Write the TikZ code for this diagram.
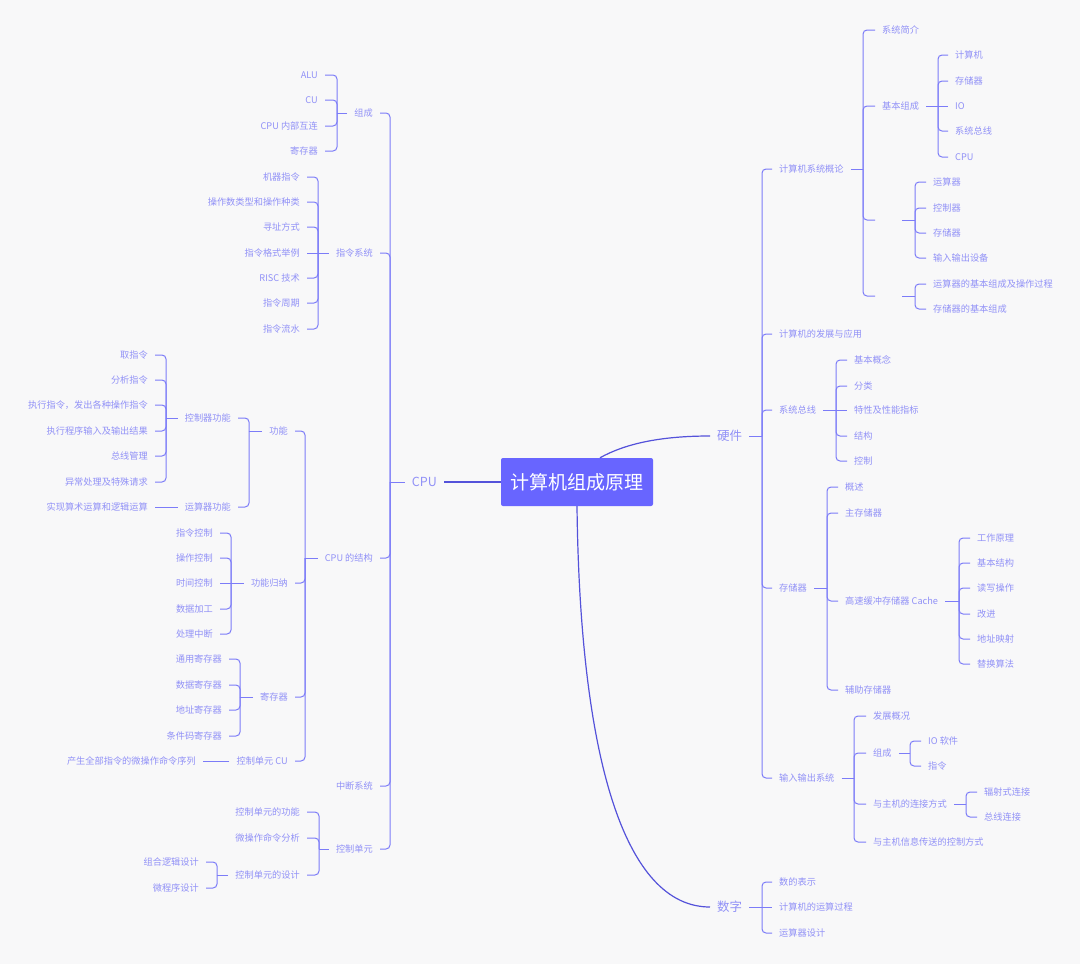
\documentclass[tikz,border=0pt]{standalone}
\usepackage{fontspec}
\setmainfont{Noto Sans CJK SC}
\usetikzlibrary{calc}
\definecolor{bgc}{RGB}{248,248,249}
\definecolor{lnc}{RGB}{124,124,248}
\definecolor{txc}{RGB}{145,145,247}
\definecolor{hubc}{RGB}{104,101,255}
\definecolor{trc}{RGB}{84,82,218}
\tikzset{
  lnode/.style={anchor=east, inner xsep=7pt, inner ysep=1pt, text=txc, font=\fontsize{9.2}{11}\selectfont},
  rnode/.style={lnode, anchor=west},
  mnode/.style={inner xsep=7pt, inner ysep=1pt, text=txc, font=\fontsize{12.5}{14}\selectfont},
  bline/.style={draw=lnc, line width=1pt, rounded corners=4pt},
  tline/.style={draw=trc, line width=1.2pt},
}
\begin{document}
\begin{tikzpicture}[x=1pt, y=-1pt]
            % background
            \path[use as bounding box, fill=bgc](0,0)rectangle(1080,964);

            % 中心
            \node[fill=hubc, rounded corners=2pt, minimum width=152pt, minimum height=48pt, text=white, font=\fontsize{19}{22}\selectfont](root)at(577,482){计算机组成原理};
            \node[mnode, anchor=east](cpu)at(444,482){CPU};
            \node[mnode, anchor=west](hw)at(710,436){硬件};
            \node[mnode, anchor=west](num)at(710,907){数字};
            \path[tline](root)--(cpu);
            \path[tline]([xshift=23pt]root.north)..controls +(25,-14) and +(-50,0)..(hw.west);
            \path[tline](root.south)..controls (580,760) and (625,907)..(num.west);

            % CPU
            \coordinate(cpuj)at(390,482);
            \path[bline](cpu)--(cpuj);
            \node[lnode](zc)at(380,113){组成};
            \node[lnode](zl)at(380,253){指令系统};
            \node[lnode](jg)at(380,558){CPU 的结构};
            \node[lnode](zd)at(380,786){中断系统};
            \node[lnode](kd)at(380,849){控制单元};
            \foreach \n in {zc,zl,jg,zd,kd} \path[bline](cpuj)|-(\n.east);

            % 组成
            \coordinate(zcj)at(337,113);
            \path[bline](zc)--(zcj);
            \node[lnode](alu)at(325,75){ALU};
            \node[lnode](cu)at(325,100){CU};
            \node[lnode](hl)at(325,126){CPU 内部互连};
            \node[lnode](zcjc)at(325,151){寄存器};
            \foreach \n in {alu,cu,hl,zcjc} \path[bline](zcj)|-(\n.east);

            % 指令系统
            \coordinate(zlj)at(318,253);
            \path[bline](zl)--(zlj);
            \node[lnode](jqzl)at(307,177){机器指令};
            \node[lnode](czs)at(307,202){操作数类型和操作种类};
            \node[lnode](xz)at(307,227){寻址方式};
            \node[lnode](gs)at(307,253){指令格式举例};
            \node[lnode](risc)at(307,278){RISC 技术};
            \node[lnode](zq)at(307,303){指令周期};
            \node[lnode](ls)at(307,329){指令流水};
            \foreach \n in {jqzl,czs,xz,risc,zq,ls} \path[bline](zlj)|-(\n.east);
            \path[bline](zlj)--(gs);

            % CPU 的结构
            \coordinate(jgj)at(305,558);
            \path[bline](jg)--(jgj);
            \node[lnode](gn)at(295,431){功能};
            \node[lnode](gngn)at(295,583){功能归纳};
            \node[lnode](jgjc)at(295,697){寄存器};
            \node[lnode](cucu)at(295,761){控制单元 CU};
            \foreach \n in {gn,gngn,jgjc,cucu} \path[bline](jgj)|-(\n.east);

            % 功能
            \coordinate(gnj)at(249,431);
            \path[bline](gn)--(gnj);
            \node[lnode](kzq)at(238,418){控制器功能};
            \node[lnode](ysq)at(238,507){运算器功能};
            \foreach \n in {kzq,ysq} \path[bline](gnj)|-(\n.east);

            % 控制器功能
            \coordinate(kzqj)at(166,418);
            \path[bline](kzq)--(kzqj);
            \node[lnode](qzl)at(155,355){取指令};
            \node[lnode](fx)at(155,380){分析指令};
            \node[lnode](zxzl)at(155,405){执行指令，发出各种操作指令};
            \node[lnode](srsc)at(155,431){执行程序输入及输出结果};
            \node[lnode](zxgl)at(155,456){总线管理};
            \node[lnode](yc)at(155,482){异常处理及特殊请求};
            \foreach \n in {qzl,fx,zxzl,srsc,zxgl,yc} \path[bline](kzqj)|-(\n.east);

            % 运算器功能
            \node[lnode](sx)at(155,507){实现算术运算和逻辑运算};
            \path[bline](ysq)--(sx);

            % 功能归纳
            \coordinate(gngnj)at(231,583);
            \path[bline](gngn)--(gngnj);
            \node[lnode](zlkz)at(220,533){指令控制};
            \node[lnode](czkz)at(220,558){操作控制};
            \node[lnode](sjkz)at(220,583){时间控制};
            \node[lnode](sjjg)at(220,609){数据加工};
            \node[lnode](clzd)at(220,634){处理中断};
            \foreach \n in {zlkz,czkz,sjjg,clzd} \path[bline](gngnj)|-(\n.east);
            \path[bline](gngnj)--(sjkz);

            % 寄存器
            \coordinate(jgjcj)at(240,697);
            \path[bline](jgjc)--(jgjcj);
            \node[lnode](ty)at(229,659){通用寄存器};
            \node[lnode](sj)at(229,685){数据寄存器};
            \node[lnode](dz)at(229,710){地址寄存器};
            \node[lnode](tj)at(229,736){条件码寄存器};
            \foreach \n in {ty,sj,dz,tj} \path[bline](jgjcj)|-(\n.east);

            % 控制单元 CU
            \node[lnode](cs)at(203,761){产生全部指令的微操作命令序列};
            \path[bline](cucu)--(cs);

            % 控制单元
            \coordinate(kdj)at(319,849);
            \path[bline](kd)--(kdj);
            \node[lnode](kdgn)at(307,812){控制单元的功能};
            \node[lnode](wcz)at(307,838){微操作命令分析};
            \node[lnode](kdsj)at(307,875){控制单元的设计};
            \foreach \n in {kdgn,wcz,kdsj} \path[bline](kdj)|-(\n.east);

            % 控制单元的设计
            \coordinate(kdsjj)at(217,875);
            \path[bline](kdsj)--(kdsjj);
            \node[lnode](zh)at(206,862){组合逻辑设计};
            \node[lnode](wcx)at(206,888){微程序设计};
            \foreach \n in {zh,wcx} \path[bline](kdsjj)|-(\n.east);

            % 硬件
            \coordinate(hwj)at(762,436);
            \path[bline](hw)--(hwj);
            \node[rnode](gl)at(772,169){计算机系统概论};
            \node[rnode](fz)at(772,334){计算机的发展与应用};
            \node[rnode](xtzx)at(772,410){系统总线};
            \node[rnode](cc)at(772,588){存储器};
            \node[rnode](io)at(772,778){输入输出系统};
            \foreach \n in {gl,fz,xtzx,cc,io} \path[bline](hwj)|-(\n.west);

            % 计算机系统概论
            \coordinate(glj)at(863,169);
            \path[bline](gl)--(glj);
            \node[rnode](jj)at(875,30){系统简介};
            \node[rnode](jbzc)at(875,106){基本组成};
            \node[rnode, minimum width=27pt](ea)at(875,220){};
            \node[rnode, minimum width=27pt](eb)at(875,296){};
            \foreach \n in {jj,jbzc,ea,eb} \path[bline](glj)|-(\n.west);

            % 基本组成
            \coordinate(jbzcj)at(938,106);
            \path[bline](jbzc)--(jbzcj);
            \node[rnode](jsj)at(948,55){计算机};
            \node[rnode](ccq)at(948,81){存储器};
            \node[rnode](ioo)at(948,106){IO};
            \node[rnode](zxb)at(948,131){系统总线};
            \node[rnode](cpub)at(948,157){CPU};
            \foreach \n in {jsj,ccq,zxb,cpub} \path[bline](jbzcj)|-(\n.west);
            \path[bline](jbzcj)--(ioo);

            % 五大部件
            \coordinate(eaj)at(915,220);
            \path[bline](ea)--(eaj);
            \node[rnode](ys)at(926,182){运算器};
            \node[rnode](kz)at(926,208){控制器};
            \node[rnode](ccb)at(926,233){存储器};
            \node[rnode](sr)at(926,258){输入输出设备};
            \foreach \n in {ys,kz,ccb,sr} \path[bline](eaj)|-(\n.west);

            \coordinate(ebj)at(915,296);
            \path[bline](eb)--(ebj);
            \node[rnode](ysgc)at(926,284){运算器的基本组成及操作过程};
            \node[rnode](ccjb)at(926,309){存储器的基本组成};
            \foreach \n in {ysgc,ccjb} \path[bline](ebj)|-(\n.west);

            % 系统总线
            \coordinate(xtzxj)at(836,410);
            \path[bline](xtzx)--(xtzxj);
            \node[rnode](gnb)at(847,360){基本概念};
            \node[rnode](fl)at(847,386){分类};
            \node[rnode](txzb)at(847,410){特性及性能指标};
            \node[rnode](jgo)at(847,436){结构};
            \node[rnode](kzo)at(847,461){控制};
            \foreach \n in {gnb,fl,jgo,kzo} \path[bline](xtzxj)|-(\n.west);
            \path[bline](xtzxj)--(txzb);

            % 存储器
            \coordinate(ccj)at(827,588);
            \path[bline](cc)--(ccj);
            \node[rnode](gsb)at(838,487){概述};
            \node[rnode](zcc)at(838,513){主存储器};
            \node[rnode](cache)at(838,601){高速缓冲存储器 Cache};
            \node[rnode](fzc)at(838,690){辅助存储器};
            \foreach \n in {gsb,zcc,cache,fzc} \path[bline](ccj)|-(\n.west);

            % Cache
            \coordinate(cachej)at(959,601);
            \path[bline](cache)--(cachej);
            \node[rnode](gzyl)at(970,538){工作原理};
            \node[rnode](jbjg)at(970,563){基本结构};
            \node[rnode](dx)at(970,588){读写操作};
            \node[rnode](gj)at(970,614){改进};
            \node[rnode](dzys)at(970,639){地址映射};
            \node[rnode](th)at(970,664){替换算法};
            \foreach \n in {gzyl,jbjg,dx,gj,dzys,th} \path[bline](cachej)|-(\n.west);

            % 输入输出系统
            \coordinate(ioj)at(854,778);
            \path[bline](io)--(ioj);
            \node[rnode](fzgk)at(866,716){发展概况};
            \node[rnode](iozc)at(866,753){组成};
            \node[rnode](ljfs)at(866,804){与主机的连接方式};
            \node[rnode](kzfs)at(866,842){与主机信息传送的控制方式};
            \foreach \n in {fzgk,iozc,ljfs,kzfs} \path[bline](ioj)|-(\n.west);

            \coordinate(iozcj)at(910,753);
            \path[bline](iozc)--(iozcj);
            \node[rnode](iorj)at(921,741){IO 软件};
            \node[rnode](iozl)at(921,766){指令};
            \foreach \n in {iorj,iozl} \path[bline](iozcj)|-(\n.west);

            \coordinate(ljfsj)at(966,804);
            \path[bline](ljfs)--(ljfsj);
            \node[rnode](fs)at(977,792){辐射式连接};
            \node[rnode](zxlj)at(977,817){总线连接};
            \foreach \n in {fs,zxlj} \path[bline](ljfsj)|-(\n.west);

            % 数字
            \coordinate(numj)at(762,907);
            \path[bline](num)--(numj);
            \node[rnode](bs)at(772,882){数的表示};
            \node[rnode](gc)at(772,907){计算机的运算过程};
            \node[rnode](ysj)at(772,933){运算器设计};
            \foreach \n in {bs,ysj} \path[bline](numj)|-(\n.west);
            \path[bline](numj)--(gc);
\end{tikzpicture}
\end{document}
